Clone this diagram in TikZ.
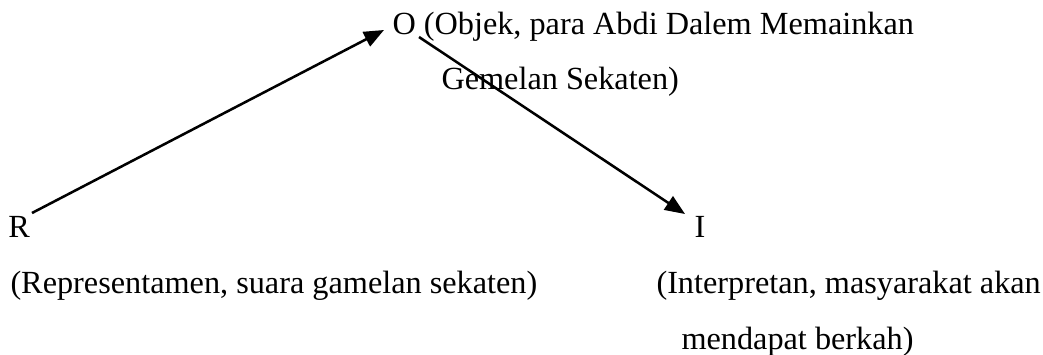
\documentclass[tikz,border=0pt]{standalone}
\usepackage{fontspec}
\setmainfont{Liberation Serif}
\usetikzlibrary{arrows.meta}
\tikzset{every picture/.style={line width=0.75pt}}

\begin{document}
\begin{tikzpicture}[x=0.75pt,y=0.75pt,yscale=-1,xscale=1,
  lbl/.style={anchor=base west,inner sep=0pt,align=left,font=\fontsize{24.2}{29}\selectfont},
  sign/.style={line width=1.9pt,-{Triangle[length=15pt,width=12pt]}}]
\useasboundingbox (0,0) rectangle (1043,354);

% Text Node
\draw (392,34) node [lbl] (objek) {O (Objek, para Abdi Dalem Memainkan};
% Text Node
\draw (441,89) node [lbl] (gemelan) {Gemelan Sekaten)};
% Text Node
\draw (8,237) node [lbl] (repr) {R};
% Text Node
\draw (694,237) node [lbl] (interp) {I};
% Text Node
\draw (10,293) node [lbl] (reprtext) {(Representamen, suara gamelan sekaten)};
% Text Node
\draw (656,293) node [lbl] (interptext) {(Interpretan, masyarakat akan};
% Text Node
\draw (681,349) node [lbl] (interptext2) {mendapat berkah)};

% Ends of the arrows
\coordinate (rtail) at (32,213);
\coordinate (ohead) at (384,30);
\coordinate (otail) at (419,37);
\coordinate (ihead) at (685,214);

%Straight Lines
\draw [sign] (rtail) -- (ohead);
%Straight Lines
\draw [sign] (otail) -- (ihead);

\end{tikzpicture}
\end{document}
